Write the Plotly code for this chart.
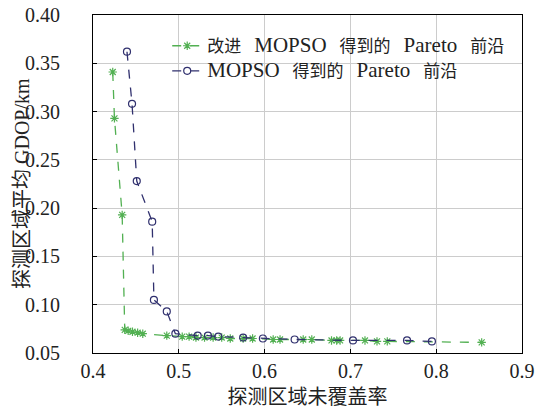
import plotly.graph_objects as go

# Improved MOPSO Pareto front
imp_x = [0.423, 0.425, 0.434, 0.437, 0.441, 0.446, 0.452, 0.458, 0.486, 0.504, 0.512,
         0.52, 0.53, 0.54, 0.55, 0.56, 0.575, 0.586, 0.61, 0.618, 0.645, 0.655,
         0.678, 0.684, 0.688, 0.717, 0.731, 0.743, 0.853]
imp_y = [0.341, 0.293, 0.193, 0.074, 0.073, 0.072, 0.071, 0.070, 0.068, 0.067, 0.067,
         0.066, 0.066, 0.066, 0.066, 0.065, 0.065, 0.065, 0.064, 0.064, 0.064, 0.064,
         0.063, 0.063, 0.063, 0.063, 0.062, 0.062, 0.061]

# MOPSO Pareto front
mo_x = [0.4396, 0.4455, 0.451, 0.469, 0.471, 0.486, 0.496, 0.522, 0.534, 0.546,
        0.575, 0.598, 0.635, 0.703, 0.766, 0.795]
mo_y = [0.362, 0.308, 0.228, 0.186, 0.105, 0.093, 0.070, 0.068, 0.068, 0.067,
        0.066, 0.065, 0.064, 0.063, 0.063, 0.062]

x_ticks = [0.4, 0.5, 0.6, 0.7, 0.8, 0.9]
y_ticks = [0.05, 0.10, 0.15, 0.20, 0.25, 0.30, 0.35, 0.40]

x_title = "探测区域未覆盖率"
y_title = "探测区域平均 GDOP/km"

FONT = "'Liberation Serif', 'Times New Roman', 'Noto Sans CJK SC', serif"


def L(t):
    return f'<span style="font-size:21px">{t}</span>'


SP = '<span style="font-size:26px">\u2002</span>'

name_imp = "改进" + SP + L("MOPSO") + SP + "得到的" + SP + L("Pareto") + SP + "前沿"
name_mo = L("MOPSO") + SP + "得到的" + SP + L("Pareto") + SP + "前沿"

GREEN = "#52b052"
BLUE = "#30306e"

fig = go.Figure()
fig.add_trace(go.Scatter(
    x=imp_x, y=imp_y, mode="lines+markers", name=name_imp,
    line=dict(color=GREEN, width=1.3, dash="dash"),
    marker=dict(symbol="asterisk-open", size=7, color=GREEN, line=dict(width=1.2, color=GREEN)),
))
fig.add_trace(go.Scatter(
    x=mo_x, y=mo_y, mode="lines+markers", name=name_mo,
    line=dict(color=BLUE, width=1.3, dash="dash"),
    marker=dict(symbol="circle-open", size=7, color=BLUE, line=dict(width=1.2, color=BLUE)),
))

fig.update_layout(
    width=536, height=418,
    margin=dict(l=93, r=14, t=15, b=65, autoexpand=False),
    paper_bgcolor="white", plot_bgcolor="white",
    font=dict(family=FONT, size=20, color="#222"),
    showlegend=True,
    legend=dict(x=0.173, y=0.961, xanchor="left", yanchor="top",
                bgcolor="rgba(255,255,255,0)", font=dict(size=17, family=FONT, color="#222"),
                tracegroupgap=0, itemwidth=30),
    xaxis=dict(range=[0.4, 0.9], tickvals=x_ticks, ticktext=[f"{v:.1f}" for v in x_ticks],
               showgrid=True, gridcolor="#cccccc", gridwidth=1,
               showline=True, linecolor="black", linewidth=1.2, mirror=True,
               ticks="inside", ticklen=4, tickcolor="black", zeroline=False,
               tickfont=dict(size=20, family=FONT), ticklabeloverflow="allow",
               title=dict(text=x_title, font=dict(size=20, family=FONT), standoff=8)),
    yaxis=dict(range=[0.05, 0.40], tickvals=y_ticks, ticktext=[f"{v:.2f}" for v in y_ticks],
               showgrid=True, gridcolor="#cccccc", gridwidth=1,
               showline=True, linecolor="black", linewidth=1.2, mirror=True,
               ticks="inside", ticklen=4, tickcolor="black", zeroline=False,
               tickfont=dict(size=20, family=FONT), ticklabelstandoff=28, ticklabeloverflow="allow"),
    annotations=[dict(text=y_title, xref="paper", yref="paper", x=-(93 - 22) / 429, y=0.5,
                      xanchor="center", yanchor="middle", textangle=-90, showarrow=False,
                      font=dict(size=20, family=FONT, color="#222"))],
)

fig.write_html("out.html", config={"displayModeBar": False},
               post_script="document.body.style.margin='0';")
